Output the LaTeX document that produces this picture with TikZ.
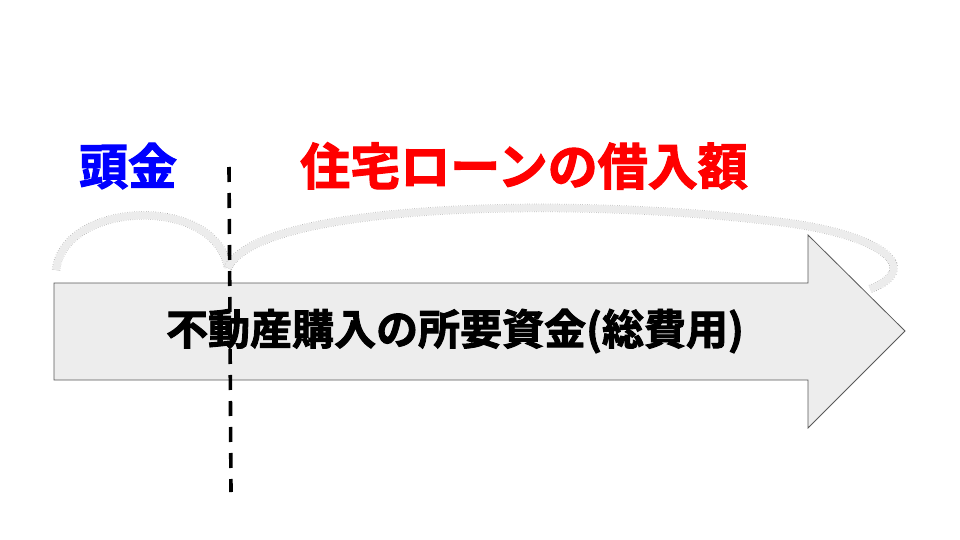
\documentclass[tikz,border=0pt]{standalone}
\usepackage{fontspec}
\newfontfamily\cjk{Noto Sans CJK JP Bold}[FakeBold=2.2]
\tikzset{
  band/.style={line width=8.5pt, draw=gray!70, dash pattern=on 0.5pt off 1.8pt,
    postaction={draw=gray!15, line width=7pt, solid}},
  bigarrow/.style={draw=black!65, line width=0.8pt, fill=gray!14},
  divider/.style={draw=black, line width=3.6pt, dash pattern=on 15pt off 11pt},
  label/.style={inner sep=0pt}
}
\begin{document}
\begin{tikzpicture}[x=1pt,y=-1pt]
\useasboundingbox (0,0) rectangle (960,540);
\fill[white] (0,0) rectangle (960,540);
% arrow
\draw[bigarrow] (54,283) -- (808,283) -- (808,235) -- (905,331) -- (808,428) -- (808,380) -- (54,380) -- cycle;
\coordinate (arrowmid) at (455,331);
% bands
\coordinate (b1s) at (56,270);
\coordinate (b1e) at (228,268);
\coordinate (b2e) at (870,289);
\draw[band] (b1s) .. controls (64,200) and (216,195) .. (b1e);
\draw[band] (b1e) .. controls (255,205) and (560,195) .. (780,222)
  .. controls (880,234) and (925,268) .. (b2e);
% divider
\coordinate (dtop) at (229,167);
\coordinate (dbot) at (231,492);
\draw[divider] (dtop) -- (dbot);
% labels
\node[label, text={rgb,255:red,0;green,0;blue,255}, font=\cjk\fontsize{49}{52}\selectfont] (atama) at (128,166) {頭金};
\node[label, text={rgb,255:red,255;green,0;blue,0}, font=\cjk\fontsize{50}{52}\selectfont] (loan) at (524,166) {住宅ローンの借入額};
\node[label, text=black, font=\cjk\fontsize{42}{48}\selectfont] (total) at (arrowmid) {不動産購入の所要資金(総費用)};
\end{tikzpicture}
\end{document}
